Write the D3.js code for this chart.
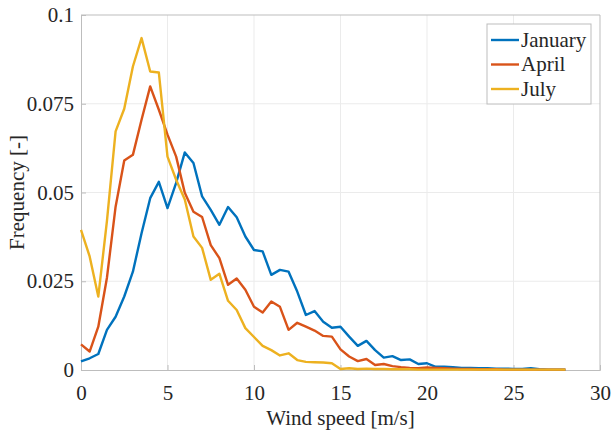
<!DOCTYPE html>
<html>
<head>
<meta charset="utf-8">
<script src="https://cdn.jsdelivr.net/npm/d3@7"></script>
<style>
  body { margin: 0; background: #fff; }
  svg text { font-family: "Liberation Serif", "Times New Roman", serif; fill: #262626; }
</style>
</head>
<body>
<div id="chart"></div>
<script>
// wind speed bins, 0.5 m/s step
const speeds = d3.range(0, 28.01, 0.5);

const january = [0.0024, 0.0033, 0.0045, 0.0113, 0.015, 0.0207, 0.0277, 0.0385, 0.0484, 0.053,
  0.0456, 0.0527, 0.0613, 0.0583, 0.0489, 0.0451, 0.0409, 0.0459, 0.043, 0.0376,
  0.0338, 0.0334, 0.0268, 0.0282, 0.0277, 0.0221, 0.0155, 0.0166, 0.0136, 0.0119,
  0.0122, 0.0094, 0.0068, 0.0082, 0.0056, 0.0035, 0.0039, 0.0028, 0.003, 0.0017,
  0.0019, 0.0009, 0.0009, 0.0008, 0.0006, 0.0006, 0.0005, 0.0005, 0.0004, 0.0004,
  0.0003, 0.0003, 0.0005, 0.0002, 0.0001, 0.0001, 0.0001];

const april = [0.0072, 0.0052, 0.0122, 0.026, 0.046, 0.059, 0.0606, 0.0705, 0.0799, 0.0733,
  0.0663, 0.0601, 0.0499, 0.0446, 0.0431, 0.0352, 0.0315, 0.024, 0.0258, 0.0226,
  0.0178, 0.0162, 0.0193, 0.0178, 0.0113, 0.0133, 0.0122, 0.0111, 0.0096, 0.0094,
  0.0058, 0.0038, 0.0025, 0.0031, 0.0014, 0.0017, 0.0011, 0.0008, 0.0006, 0.0005,
  0.0007, 0.0006, 0.0005, 0.0004, 0.0003, 0.0003, 0.0002, 0.0002, 0.0002, 0.0001,
  0.0001, 0.0001, 0.0001, 0.0001, 0.0001, 0.0001, 0.0001];

const july = [0.0395, 0.032, 0.0207, 0.042, 0.0672, 0.0736, 0.0855, 0.0935, 0.0841, 0.0838,
  0.0601, 0.0536, 0.048, 0.0376, 0.0344, 0.0254, 0.0271, 0.0195, 0.0169, 0.0118,
  0.0093, 0.0068, 0.0056, 0.0041, 0.0047, 0.0028, 0.0023, 0.0022, 0.0021, 0.0019,
  0.0003, 0.0005, 0.0003, 0.0004, 0.0003, 0.0003, 0.0002, 0.0002, 0.0002, 0.0001,
  0.0001, 0.0001, 0.0001, 0.0001, 0.0001, 0.0001, 0.0001, 0.0001, 0.0001, 0.0001,
  0.0001, 0.0001, 0.0001, 0.0001, 0.0001, 0.0001, 0.0001];

const seriesNames = ["January", "April", "July"];
const seriesColors = ["#0072BD", "#D95319", "#EDB120"];
const xTicks = [0, 5, 10, 15, 20, 25, 30];
const yTicks = [0, 0.025, 0.05, 0.075, 0.1];
const yTickLabels = ["0", "0.025", "0.05", "0.075", "0.1"];

const width = 611, height = 432;
const margin = { top: 15, right: 11, bottom: 62, left: 81 };
const innerW = width - margin.left - margin.right;
const innerH = height - margin.top - margin.bottom;
const serif = "'Liberation Serif', 'Times New Roman', serif";

const svg = d3.select("#chart").append("svg")
  .attr("width", width)
  .attr("height", height);

const g = svg.append("g")
  .attr("transform", `translate(${margin.left},${margin.top})`);

const x = d3.scaleLinear().domain([0, 30]).range([0, innerW]);
const y = d3.scaleLinear().domain([0, 0.1]).range([innerH, 0]);

// grid
g.append("g")
  .selectAll("line.vgrid")
  .data(xTicks.slice(1, -1))
  .join("line")
  .attr("x1", d => x(d)).attr("x2", d => x(d))
  .attr("y1", 0).attr("y2", innerH)
  .attr("stroke", "#ebebeb").attr("stroke-width", 1);

g.append("g")
  .selectAll("line.hgrid")
  .data(yTicks.slice(1, -1))
  .join("line")
  .attr("x1", 0).attr("x2", innerW)
  .attr("y1", d => y(d)).attr("y2", d => y(d))
  .attr("stroke", "#ebebeb").attr("stroke-width", 1);

// axes
const xAxis = g.append("g")
  .attr("transform", `translate(0,${innerH})`)
  .call(d3.axisBottom(x).tickValues(xTicks).tickSize(-5).tickPadding(15).tickFormat(d3.format("d")));

const yAxis = g.append("g")
  .call(d3.axisLeft(y).tickValues(yTicks).tickSize(-5).tickPadding(7)
    .tickFormat((d, i) => yTickLabels[i]));

[xAxis, yAxis].forEach(a => {
  a.attr("font-family", serif).attr("font-size", 21);
  a.select(".domain").attr("stroke", "#bdbdbd");
  a.selectAll(".tick line").attr("stroke", "#bdbdbd");
  a.selectAll(".tick text").attr("fill", "#262626");
});

// top and right border
g.append("line").attr("x1", 0).attr("x2", innerW).attr("y1", 0).attr("y2", 0)
  .attr("stroke", "#bdbdbd");
g.append("line").attr("x1", innerW).attr("x2", innerW).attr("y1", 0).attr("y2", innerH)
  .attr("stroke", "#bdbdbd");

// lines
const allSeries = [january, april, july];
const line = d3.line()
  .x((d, i) => x(speeds[i]))
  .y(d => y(d));

g.selectAll("path.series")
  .data(allSeries)
  .join("path")
  .attr("class", "series")
  .attr("fill", "none")
  .attr("stroke", (d, i) => seriesColors[i])
  .attr("stroke-width", 2.4)
  .attr("stroke-linejoin", "round")
  .attr("d", line);

// axis labels
svg.append("text")
  .attr("x", margin.left + innerW / 2)
  .attr("y", height - 7)
  .attr("text-anchor", "middle")
  .style("font-size", "21px")
  .text("Wind speed [m/s]");

svg.append("text")
  .attr("transform", `translate(24,${margin.top + innerH / 2}) rotate(-90)`)
  .attr("text-anchor", "middle")
  .style("font-size", "21px")
  .text("Frequency [-]");

// legend
const legend = svg.append("g").attr("transform", "translate(487,24)");
legend.append("rect")
  .attr("width", 104).attr("height", 80)
  .attr("fill", "#fff").attr("stroke", "#bdbdbd");

const rows = legend.selectAll("g.row")
  .data(seriesNames)
  .join("g")
  .attr("class", "row")
  .attr("transform", (d, i) => `translate(0,${16 + i * 24.5})`);

rows.append("line")
  .attr("x1", 4).attr("x2", 32)
  .attr("stroke", (d, i) => seriesColors[i])
  .attr("stroke-width", 2.4);

rows.append("text")
  .attr("x", 34)
  .attr("dy", "0.33em")
  .style("font-size", "21px")
  .text(d => d);
</script>
</body>
</html>
